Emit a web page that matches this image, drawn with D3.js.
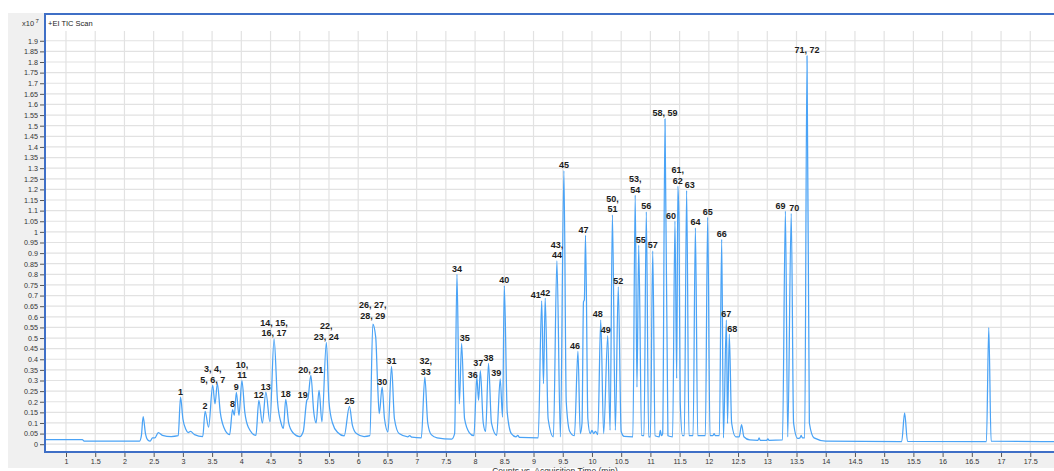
<!DOCTYPE html>
<html>
<head>
<meta charset="utf-8">
<script src="https://cdn.jsdelivr.net/npm/d3@7"></script>
<style>
  html, body { margin: 0; padding: 0; background: #fff; overflow: hidden; }
  svg { display: block; font-family: "Liberation Sans", Arial, sans-serif; }
</style>
</head>
<body>
<svg id="chart" width="1054" height="471"></svg>
<script>
// Axis ticks (retention time in min, counts in units of 10^7)
const xTickValues = [1, 1.5, 2, 2.5, 3, 3.5, 4, 4.5, 5, 5.5, 6, 6.5, 7, 7.5, 8, 8.5, 9, 9.5,
  10, 10.5, 11, 11.5, 12, 12.5, 13, 13.5, 14, 14.5, 15, 15.5, 16, 16.5, 17, 17.5];
const yTickValues = [0, 0.05, 0.1, 0.15, 0.2, 0.25, 0.3, 0.35, 0.4, 0.45, 0.5, 0.55, 0.6, 0.65,
  0.7, 0.75, 0.8, 0.85, 0.9, 0.95, 1, 1.05, 1.1, 1.15, 1.2, 1.25, 1.3, 1.35, 1.4, 1.45, 1.5,
  1.55, 1.6, 1.65, 1.7, 1.75, 1.8, 1.85, 1.9];

// Numbered peaks: label text, apex retention time (min), apex counts (x10^7)
const peakLabels = ["1", "2", "3, 4,\n5, 6, 7", "8", "9", "10,\n11", "12", "13", "14, 15,\n16, 17",
  "18", "19", "20, 21", "22,\n23, 24", "25", "26, 27,\n28, 29", "30", "31", "32,\n33", "34", "35",
  "36", "37", "38", "39", "40", "41", "42", "43,\n44", "45", "46", "47", "48", "49", "50,\n51",
  "52", "53,\n54", "55", "56", "57", "58, 59", "60", "61,\n62", "63", "64", "65", "66", "67",
  "68", "69", "70", "71, 72"];
const peakTimes = [2.96, 3.38, 3.51, 3.85, 3.915, 4.01, 4.30, 4.42, 4.56, 4.76, 5.12, 5.19, 5.455,
  5.85, 6.25, 6.41, 6.57, 7.14, 7.69, 7.77, 8.03, 8.09, 8.23, 8.43, 8.50, 9.14, 9.20, 9.40, 9.52,
  9.76, 9.89, 10.15, 10.27, 10.35, 10.45, 10.74, 10.80, 10.93, 11.04, 11.25, 11.42, 11.47, 11.62,
  11.77, 11.98, 12.22, 12.30, 12.35, 13.31, 13.41, 13.68];
const peakCounts = [0.222, 0.155, 0.277, 0.163, 0.244, 0.300, 0.206, 0.245, 0.496, 0.211, 0.206,
  0.324, 0.480, 0.178, 0.566, 0.269, 0.366, 0.316, 0.800, 0.475, 0.316, 0.347, 0.381, 0.308, 0.746,
  0.675, 0.688, 0.863, 1.288, 0.438, 0.984, 0.585, 0.511, 1.080, 0.741, 1.173, 0.937, 1.094, 0.910,
  1.532, 1.051, 1.215, 1.195, 1.019, 1.069, 0.965, 0.585, 0.519, 1.098, 1.087, 1.829];

// Remaining TIC vertices: baseline, valleys, shoulders and unnumbered peaks [min, x10^7]
const ticTrace = [
  [0.60, 0.022], [1.28, 0.022], [1.31, 0.015], [2.26, 0.015], [2.29, 0.04], [2.32, 0.13],
  [2.36, 0.05], [2.40, 0.02], [2.44, 0.015], [2.48, 0.03], [2.52, 0.03], [2.58, 0.055],
  [2.65, 0.042], [2.80, 0.036], [2.92, 0.04],
  [3.00, 0.12], [3.05, 0.07], [3.09, 0.055], [3.13, 0.06], [3.20, 0.045], [3.34, 0.036],
  [3.44, 0.08], [3.55, 0.19], [3.59, 0.285], [3.64, 0.15], [3.70, 0.08], [3.80, 0.045],
  [3.88, 0.136], [3.96, 0.136], [4.06, 0.15], [4.12, 0.08], [4.25, 0.042],
  [4.36, 0.10], [4.49, 0.105], [4.62, 0.20], [4.68, 0.10], [4.72, 0.074],
  [4.81, 0.10], [4.88, 0.055], [5.00, 0.036], [5.06, 0.06], [5.14, 0.215],
  [5.24, 0.15], [5.28, 0.10], [5.33, 0.253], [5.38, 0.105],
  [5.50, 0.20], [5.56, 0.10], [5.65, 0.055], [5.76, 0.039],
  [5.90, 0.09], [5.97, 0.05], [6.10, 0.036], [6.20, 0.04],
  [6.30, 0.503], [6.33, 0.30], [6.36, 0.144], [6.45, 0.12], [6.51, 0.058],
  [6.62, 0.12], [6.70, 0.05], [6.85, 0.035], [6.88, 0.04], [6.92, 0.033], [7.08, 0.03],
  [7.19, 0.10], [7.25, 0.045], [7.35, 0.03], [7.60, 0.024], [7.65, 0.05],
  [7.73, 0.19], [7.82, 0.12], [7.90, 0.055], [7.98, 0.04],
  [8.06, 0.206], [8.14, 0.10], [8.18, 0.06], [8.28, 0.10], [8.37, 0.042],
  [8.47, 0.128], [8.55, 0.15], [8.62, 0.05], [8.70, 0.035], [8.73, 0.042], [8.76, 0.032],
  [9.08, 0.03], [9.17, 0.285], [9.25, 0.12], [9.34, 0.035], [9.46, 0.034],
  [9.56, 0.20], [9.62, 0.06], [9.70, 0.04], [9.80, 0.05], [9.83, 0.10], [9.855, 0.67],
  [9.87, 0.68], [9.93, 0.12], [9.97, 0.05], [10.00, 0.065], [10.03, 0.05], [10.06, 0.06],
  [10.10, 0.045], [10.20, 0.05], [10.31, 0.066], [10.40, 0.066], [10.50, 0.06],
  [10.55, 0.037], [10.70, 0.035], [10.77, 0.269], [10.85, 0.042], [10.89, 0.04],
  [10.97, 0.035], [11.00, 0.035], [11.08, 0.04], [11.15, 0.035], [11.17, 0.065],
  [11.19, 0.04], [11.21, 0.05], [11.30, 0.04], [11.38, 0.035], [11.45, 0.31],
  [11.49, 1.036], [11.51, 0.20], [11.55, 0.04], [11.58, 0.04], [11.66, 0.04], [11.73, 0.04],
  [11.81, 0.04], [11.94, 0.04], [12.02, 0.04], [12.07, 0.04], [12.09, 0.05], [12.11, 0.04],
  [12.18, 0.04], [12.25, 0.03], [12.32, 0.097], [12.39, 0.10], [12.46, 0.035],
  [12.52, 0.035], [12.56, 0.092], [12.60, 0.035], [12.70, 0.02], [12.84, 0.018],
  [12.86, 0.03], [12.88, 0.018], [12.99, 0.018], [13.01, 0.025], [13.03, 0.018],
  [13.26, 0.02], [13.35, 0.034], [13.45, 0.10], [13.52, 0.027], [13.56, 0.03],
  [13.58, 0.042], [13.60, 0.03], [13.64, 0.03], [13.72, 0.10], [13.80, 0.03],
  [14.00, 0.015], [15.30, 0.012], [15.35, 0.147], [15.40, 0.013], [16.75, 0.012],
  [16.79, 0.55], [16.83, 0.015], [18.00, 0.012]
];

// Per-label pixel nudges where a label sits beside its peak rather than above it
const labelNudge = { "19": [-4, 0], "26, 27,\n28, 29": [0, -3], "32,\n33": [1, 0], "35": [3, 0],
  "36": [-4, 3], "37": [-2, -2], "39": [-4, 0], "41": [-6, 0], "46": [-3, 0], "47": [-2, 0],
  "48": [-3, 0], "49": [-2, 0], "55": [2, 0], "60": [-4, 0], "63": [3, 0], "68": [3, 0],
  "69": [-5, 0], "70": [3, 0] };

const W = 1054, H = 471;
const plot = { left: 45, right: 1060, top: 31, bottom: 452 };

const svg = d3.select("#chart");

const x = d3.scaleLinear().domain([0.64, 18.0]).range([7.56 + 58.44 * 0.64, 7.56 + 58.44 * 18.0]);
const y = d3.scaleLinear().domain([-0.0367, 1.946]).range([plot.bottom, plot.top]);

// Window panel and plot background
svg.append("rect").attr("x", 0).attr("y", 0).attr("width", W).attr("height", H).attr("fill", "#fff");
svg.append("rect").attr("x", 8).attr("y", 13).attr("width", W - 8).attr("height", 455).attr("fill", "#f0f0f0");
svg.append("rect").attr("x", plot.left).attr("y", 14).attr("width", W - plot.left)
  .attr("height", plot.bottom - 14).attr("fill", "#fff");

svg.append("defs").append("clipPath").attr("id", "plotClip")
  .append("rect").attr("x", plot.left).attr("y", plot.top)
  .attr("width", W - plot.left).attr("height", plot.bottom - plot.top);

// Gridlines
const grid = svg.append("g").attr("clip-path", "url(#plotClip)");
grid.selectAll("line.vx").data(xTickValues).join("line")
  .attr("x1", d => x(d)).attr("x2", d => x(d))
  .attr("y1", plot.top).attr("y2", plot.bottom)
  .attr("stroke", "#e2e2e2").attr("stroke-width", 1.2);
grid.selectAll("line.hy").data(yTickValues).join("line")
  .attr("x1", plot.left).attr("x2", W)
  .attr("y1", d => y(d)).attr("y2", d => y(d))
  .attr("stroke", "#e2e2e2").attr("stroke-width", 1.2);

// TIC trace: numbered apexes merged with the other vertices in time order
const tracePoints = ticTrace.concat(peakTimes.map((t, i) => [t, peakCounts[i]]))
  .sort((a, b) => a[0] - b[0]);
const line = d3.line().x(d => x(d[0])).y(d => y(d[1])).curve(d3.curveMonotoneX);
svg.append("g").attr("clip-path", "url(#plotClip)")
  .append("path").datum(tracePoints)
  .attr("d", line).attr("fill", "none")
  .attr("stroke", "#4aa3f6").attr("stroke-width", 1.25).attr("stroke-linejoin", "round");

// Peak numbers
const labels = svg.append("g").attr("font-size", 9).attr("font-weight", "bold")
  .attr("fill", "#1c1c1c").attr("text-anchor", "middle");
peakLabels.forEach((lab, i) => {
  const nudge = labelNudge[lab] || [0, 0];
  const lines = lab.split("\n");
  const cx = x(peakTimes[i]) + nudge[0];
  const base = y(peakCounts[i]) - 2.5 + nudge[1];
  lines.forEach((txt, j) => {
    labels.append("text").attr("x", cx)
      .attr("y", base - (lines.length - 1 - j) * 10.5).text(txt);
  });
});

// Axes
const xAxis = d3.axisBottom(x).tickValues(xTickValues).tickSize(4).tickPadding(2)
  .tickFormat(d => String(d));
const yAxis = d3.axisLeft(y).tickValues(yTickValues).tickSize(4).tickPadding(2)
  .tickFormat(d => String(d));

const gx = svg.append("g").attr("transform", `translate(0,${plot.bottom + 1})`).call(xAxis);
const gy = svg.append("g").attr("transform", `translate(${plot.left - 1},0)`).call(yAxis);
[gx, gy].forEach(g => {
  g.select(".domain").remove();
  g.selectAll(".tick line").attr("stroke", "#555");
  g.selectAll(".tick text").attr("fill", "#333").attr("font-size", 7.2)
    .attr("font-family", "'Liberation Sans', Arial, sans-serif");
});
gx.selectAll(".tick").filter(d => x(d) > W).remove();

// Plot frame (top, left, bottom)
const frame = svg.append("g").attr("stroke", "#3f6fc6").attr("stroke-width", 2).attr("fill", "none");
frame.append("line").attr("x1", plot.left).attr("x2", W).attr("y1", 14).attr("y2", 14);
frame.append("line").attr("x1", plot.left).attr("x2", plot.left).attr("y1", 13).attr("y2", plot.bottom + 1);
frame.append("line").attr("x1", plot.left - 1).attr("x2", W).attr("y1", plot.bottom).attr("y2", plot.bottom);

// Header text
svg.append("text").attr("x", 48).attr("y", 25.5).attr("font-size", 7.5).attr("fill", "#222")
  .text("+EI TIC Scan");
const mult = svg.append("text").attr("x", 22).attr("y", 25.5).attr("font-size", 7.5).attr("fill", "#333");
mult.append("tspan").text("x10");
mult.append("tspan").attr("dx", 1.5).attr("dy", -2.5).attr("font-size", 6).text("7");

// X-axis title, running off the bottom of the window
svg.append("text").attr("x", 555).attr("y", 474).attr("text-anchor", "middle")
  .attr("font-size", 8.5).attr("fill", "#333").text("Counts vs. Acquisition Time (min)");
</script>
</body>
</html>
